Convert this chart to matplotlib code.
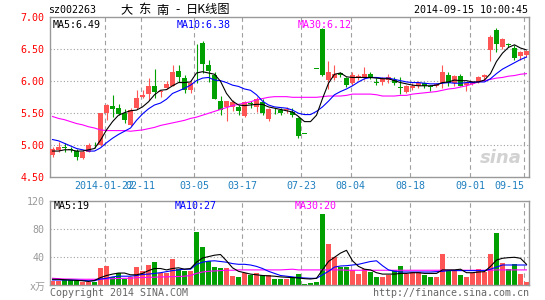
import numpy as np
import matplotlib
matplotlib.use("Agg")
from matplotlib import pyplot as plt

# daily candles (sz002263)
opens = [4.85, 4.93, 4.97, 4.95, 4.91, 4.80, 4.90, 5.01, 5.00, 5.50,
         5.61, 5.59, 5.51, 5.32, 5.58, 5.76, 5.80, 5.92, 5.83, 5.90,
         5.93, 6.16, 6.05, 5.86, 6.57, 6.60, 6.26, 6.10, 5.69, 5.60,
         5.60, 5.60, 5.46, 5.66, 5.60, 5.67, 5.41, 5.57, 5.55, 5.55,
         5.52, 5.42, 5.18, 5.64, 6.20, 6.82, 6.02, 6.05, 6.13, 6.05,
         5.97, 6.05, 6.07, 6.12, 5.99, 5.99, 6.02, 6.02, 5.91, 5.84,
         5.89, 5.93, 5.97, 5.93, 5.93, 5.97, 6.10, 5.97, 6.08, 5.94,
         5.96, 5.99, 6.06, 6.49, 6.80, 6.53, 6.58, 6.52, 6.40, 6.41]
highs = [4.98, 5.05, 5.04, 4.98, 4.95, 4.93, 5.03, 5.05, 5.51, 5.64,
         5.79, 5.64, 5.57, 5.58, 5.87, 5.86, 6.05, 6.20, 5.86, 6.00,
         6.26, 6.26, 6.10, 6.01, 6.58, 6.63, 6.34, 6.15, 5.77, 5.70,
         5.71, 5.63, 5.69, 5.69, 5.76, 5.72, 5.58, 5.59, 5.58, 5.60,
         5.58, 5.44, 5.18, 5.64, 6.20, 6.83, 6.31, 6.26, 6.14, 6.07,
         6.15, 6.12, 6.23, 6.14, 6.05, 6.07, 6.12, 6.07, 6.07, 5.94,
         5.97, 6.01, 5.99, 5.95, 5.97, 6.26, 6.15, 6.10, 6.11, 5.99,
         6.00, 6.08, 6.11, 6.72, 6.83, 6.68, 6.60, 6.56, 6.47, 6.48]
lows = [4.81, 4.89, 4.90, 4.89, 4.77, 4.79, 4.89, 4.96, 4.99, 5.39,
        5.44, 5.47, 5.35, 5.30, 5.57, 5.74, 5.71, 5.74, 5.76, 5.88,
        5.92, 5.99, 5.81, 5.81, 5.98, 6.13, 5.99, 5.72, 5.48, 5.38,
        5.53, 5.47, 5.44, 5.58, 5.52, 5.47, 5.38, 5.49, 5.47, 5.50,
        5.45, 5.11, 5.18, 5.64, 6.20, 6.09, 5.88, 6.02, 6.06, 5.91,
        5.95, 6.02, 6.02, 6.03, 5.94, 5.95, 5.97, 5.94, 5.80, 5.82,
        5.86, 5.89, 5.89, 5.85, 5.91, 5.89, 5.93, 5.93, 5.92, 5.85,
        5.94, 5.97, 6.02, 6.32, 6.46, 6.50, 6.54, 6.33, 6.33, 6.38]
closes = [4.95, 4.98, 4.96, 4.93, 4.81, 4.90, 5.00, 5.00, 5.51, 5.63,
          5.57, 5.49, 5.39, 5.55, 5.74, 5.78, 5.92, 5.84, 5.85, 5.96,
          6.15, 6.07, 5.86, 5.98, 6.56, 6.27, 6.16, 5.73, 5.55, 5.69,
          5.67, 5.53, 5.67, 5.65, 5.72, 5.50, 5.57, 5.56, 5.51, 5.57,
          5.48, 5.14, 5.18, 5.64, 6.20, 6.10, 6.15, 6.12, 6.10, 5.94,
          6.10, 6.08, 6.12, 6.05, 5.98, 6.03, 6.06, 5.98, 5.90, 5.92,
          5.93, 5.98, 5.92, 5.91, 5.96, 6.15, 5.97, 6.09, 5.93, 5.97,
          5.98, 6.07, 6.10, 6.70, 6.59, 6.66, 6.57, 6.37, 6.46, 6.47]

ma5 = [4.91, 4.91, 4.93, 4.93, 4.91, 4.91, 4.93, 4.95, 5.08, 5.24,
       5.37, 5.47, 5.51, 5.54, 5.55, 5.60, 5.68, 5.79, 5.86, 5.87,
       5.93, 5.98, 5.98, 5.99, 6.13, 6.15, 6.13, 6.11, 6.00, 5.81,
       5.69, 5.63, 5.62, 5.63, 5.64, 5.64, 5.60, 5.58, 5.56, 5.54,
       5.52, 5.45, 5.37, 5.37, 5.47, 5.73, 5.97, 6.11, 6.13, 6.07,
       6.06, 6.06, 6.06, 6.06, 6.05, 6.04, 6.04, 6.01, 5.98, 5.96,
       5.94, 5.93, 5.93, 5.93, 5.94, 5.98, 5.99, 6.02, 6.01, 6.01,
       5.99, 5.99, 6.02, 6.12, 6.31, 6.44, 6.53, 6.57, 6.52, 6.49]
ma10 = [5.09, 5.07, 5.03, 4.99, 4.95, 4.93, 4.91, 4.91, 4.96, 5.04,
        5.11, 5.17, 5.22, 5.27, 5.39, 5.49, 5.57, 5.63, 5.66, 5.72,
        5.81, 5.85, 5.89, 5.94, 6.01, 6.05, 6.06, 6.02, 6.01, 5.98,
        5.94, 5.92, 5.88, 5.86, 5.79, 5.69, 5.63, 5.60, 5.59, 5.58,
        5.55, 5.50, 5.48, 5.48, 5.53, 5.60, 5.69, 5.79, 5.84, 5.88,
        5.93, 5.99, 6.04, 6.06, 6.06, 6.05, 6.05, 6.03, 6.01, 5.99,
        5.98, 5.98, 5.97, 5.96, 5.96, 5.97, 5.98, 5.97, 5.97, 5.98,
        5.98, 5.99, 5.99, 6.04, 6.12, 6.19, 6.24, 6.29, 6.34, 6.38]
ma30 = [5.45, 5.42, 5.40, 5.37, 5.34, 5.32, 5.29, 5.27, 5.24, 5.23,
        5.23, 5.23, 5.23, 5.22, 5.23, 5.24, 5.26, 5.28, 5.31, 5.33,
        5.35, 5.37, 5.39, 5.42, 5.44, 5.47, 5.50, 5.53, 5.56, 5.59,
        5.62, 5.64, 5.66, 5.68, 5.71, 5.73, 5.75, 5.76, 5.76, 5.76,
        5.75, 5.75, 5.75, 5.75, 5.75, 5.76, 5.77, 5.77, 5.77, 5.78,
        5.80, 5.80, 5.80, 5.80, 5.79, 5.77, 5.77, 5.77, 5.78, 5.78,
        5.80, 5.81, 5.82, 5.83, 5.84, 5.86, 5.88, 5.89, 5.91, 5.93,
        5.96, 5.99, 6.01, 6.03, 6.05, 6.06, 6.08, 6.09, 6.11, 6.12]

# volume (x10k shares)
volume = [6, 6, 7.6, 7.6, 7, 5, 5, 5, 25, 27.6,
          11.4, 17, 8.6, 11.4, 26.7, 21, 29, 33.8, 18, 18,
          37.6, 22.9, 21, 21, 76.7, 55, 34.8, 26.7, 25, 25,
          13.3, 12.4, 18, 14.3, 18, 14.3, 14.3, 9.5, 9.5, 9.5,
          11.4, 16, 2, 3.8, 5.2, 102, 59, 40, 26.7, 25.7,
          21.9, 16, 22.9, 19, 12.4, 12.4, 15.2, 21.9, 27.6, 16,
          19, 19, 14.3, 12.4, 12.4, 44.8, 21, 22, 14.3, 12.4,
          17, 22.9, 19, 44.8, 75, 32, 22.9, 30, 16, 4.8]
vma5 = [8.6, 8.5, 8, 7.5, 7, 6.5, 5.5, 7, 11, 14,
        16, 17.5, 17.5, 15, 15, 17, 21, 24, 24, 22,
        24, 25, 23, 24, 33, 39, 41, 43, 44, 35,
        25, 20, 18, 16, 15, 14, 13.5, 13, 12, 11.5,
        11, 10.5, 9.5, 9, 10, 22, 34, 40, 46, 50,
        35, 27, 23, 22, 18, 16, 16, 16, 17, 17,
        18, 18, 17, 17, 17, 22, 22, 22, 23, 18,
        18, 19, 19.5, 27, 36, 38.6, 39.5, 40, 38.6, 30]
vma10 = [7.6, 7.6, 7.6, 7.5, 7.3, 7, 6.5, 6.5, 9, 10,
         12, 13, 13, 13, 14, 15.5, 16, 17, 18, 19.5,
         21, 22, 23, 23, 30, 33, 34.5, 35, 34, 33,
         31, 30, 30, 29, 27, 24, 20, 17, 14, 13,
         12, 11, 10.5, 10, 10, 15, 20, 26, 27.6, 28,
         29, 30, 32, 34, 35, 28, 22, 20, 19, 19,
         19, 19, 19, 19, 19.5, 20, 21, 21, 21, 21,
         21, 21, 21, 23, 26, 29, 29, 29, 29, 29]
vma30 = [10, 9.5, 9, 9, 8.8, 8.6, 8.6, 8.6, 8.6, 9,
         9.5, 9.8, 10, 10, 11, 11, 11.5, 11.5, 12, 12,
         12.4, 12.6, 13, 14, 17, 19, 20, 20.5, 21, 21.5,
         21.5, 22, 22, 22, 22, 22, 22, 22, 22, 22.5,
         23, 22, 22, 22, 22, 22, 22, 22, 22, 21.5,
         21.5, 21.5, 21.5, 21.5, 21.5, 21.5, 21.5, 21.5, 21.5, 21.5,
         21.5, 21.5, 21.5, 21.5, 21.5, 21.5, 21.5, 21.5, 21.5, 21.5,
         21.5, 21.5, 21.5, 21.5, 22, 22, 22, 22, 22, 22]

date_labels = ["2014-01-22", "02-11", "03-05", "03-17", "07-23",
               "08-04", "08-18", "09-01", "09-15"]
date_pos = [8.7, 14.7, 23.6, 31.6, 41.5, 49.7, 59.6, 69.6, 78.6]
price_ticks = [4.5, 5.0, 5.5, 6.0, 6.5, 7.0]
vol_ticks = [40, 80, 120]
title_parts = ["大", "东", "南", "-", "日K线图"]

W, H = 545, 300
MONO = ["DejaVu Sans Mono", "Noto Sans CJK SC"]
CJK = ["Noto Sans CJK SC", "DejaVu Sans"]
FS = 7.2
RED, GREEN = "#ff5555", "#00a000"
GRID = "#a0a0a0"

o, h, l, c = map(np.array, (opens, highs, lows, closes))
idx = np.arange(len(o))
cols = np.where(c > o, RED, GREEN)

fig = plt.figure(figsize=(W / 100, H / 100), dpi=100)
ax = fig.add_axes([50.3 / W, 1 - 177.3 / H, 478.7 / W, 160 / H])
axv = fig.add_axes([50.3 / W, 1 - 285.3 / H, 478.7 / W, 84 / H])

for a in (ax, axv):
    a.set_xlim(-0.37, 79.42)
    for s in a.spines.values():
        s.set_color("#999999")
        s.set_linewidth(1)
    for p in date_pos:
        a.axvline(p, color=GRID, lw=0.8, ls=(0, (4, 3)), zorder=0)
    a.set_xticks([])
    a.tick_params(axis="y", length=0, pad=4, labelsize=FS)

# price panel
ax.set_ylim(4.5, 7.0)
for y in price_ticks[1:-1]:
    ax.axhline(y, color=GRID, lw=0.8, ls=(0, (1, 2)), zorder=0)
ax.set_yticks(price_ticks)
ax.set_yticklabels(["%.2f" % t for t in price_ticks], family=MONO, color="red")

ax.vlines(idx, l, h, colors=cols, lw=0.8, zorder=2)
ax.bar(idx, np.maximum(np.abs(c - o), 0.012), bottom=np.minimum(o, c),
       width=0.8, color=cols, linewidth=0, zorder=3)
ax.plot(idx, ma30, color="#ff00ff", lw=0.8, zorder=4)
ax.plot(idx, ma10, color="#0000ff", lw=0.8, zorder=4)
ax.plot(idx, ma5, color="black", lw=0.8, zorder=5)

for i, (p, lab) in enumerate(zip(date_pos, date_labels)):
    last = i == len(date_pos) - 1
    ax.text(p, -0.055, lab, transform=ax.get_xaxis_transform(),
            ha="right" if last else "center", va="center",
            family=MONO, fontsize=FS, color="#2080c0")

ax.text(0.985, 0.12, "sina", transform=ax.transAxes, ha="right", va="center",
        fontsize=13, fontweight="bold", style="italic", color="#d2d2d2", zorder=1)

# volume panel
axv.set_ylim(0, 120)
for y in vol_ticks[:-1]:
    axv.axhline(y, color=GRID, lw=0.8, ls=(0, (1, 2)), zorder=0)
axv.set_yticks(vol_ticks)
axv.set_yticklabels([str(t) for t in vol_ticks], family=MONO, color="#999999")
axv.bar(idx, volume, width=0.8, color=cols, linewidth=0, zorder=2)
axv.plot(idx, vma30, color="#ff00ff", lw=0.8, zorder=3)
axv.plot(idx, vma10, color="#0000ff", lw=0.8, zorder=3)
axv.plot(idx, vma5, color="black", lw=0.8, zorder=4)


def put(x, y, s, color="black", ha="left", **kw):
    fig.text(x / W, 1 - y / H, s, color=color, ha=ha, va="center",
             family=kw.pop("family", MONO), fontsize=kw.pop("fontsize", FS), **kw)


put(48, 10, "sz002263")
# title glyphs sit on a fixed grid like the bitmap font of the original
for x, part in zip([120, 138, 156, 175, 186], title_parts):
    put(x, 10, part, family=CJK, fontsize=8.8)
put(528, 10, "2014-09-15 10:00:45", ha="right")
put(53, 25, "MA5:6.49")
put(177, 25, "MA10:6.38", color="#0000ff")
put(298, 25, "MA30:6.12", color="#ff00ff")
put(54, 206, "MA5:19")
put(175, 206, "MA10:27", color="#0000ff")
put(295, 206, "MA30:20", color="#ff00ff")
put(46, 287, "x万", color="#999999", ha="right")
put(50, 293, "Copyright 2014 SINA.COM", color="#666666")
put(529, 293, "http://finance.sina.com.cn", color="#666666", ha="right")

fig.savefig("out.png", dpi=100, facecolor="white")
